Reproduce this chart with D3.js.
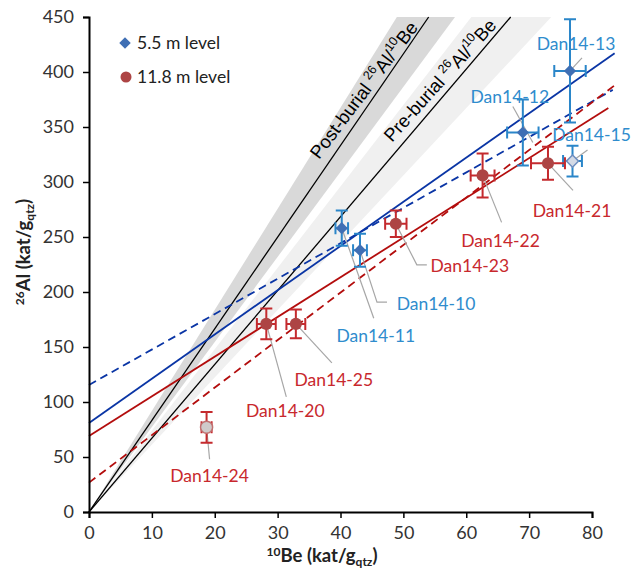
<!DOCTYPE html>
<html>
<head>
<meta charset="utf-8">
<script src="https://cdn.jsdelivr.net/npm/d3@7"></script>
<style>
  body { margin: 0; background: #fff; }
  svg { display: block; }
  text { font-family: Lato, "Open Sans", sans-serif; }
</style>
</head>
<body>
<div id="chart"></div>
<script>
// data ----------------------------------------------------------------------------------------
// 5.5 m level
const names55 = ['Dan14-10', 'Dan14-11', 'Dan14-12', 'Dan14-13', 'Dan14-15'];
const be55 = [43.1, 40.2, 69.0, 76.5, 76.9];
const be55Err = [1.1, 1.0, 2.5, 2.5, 1.5];
const al55 = [238, 258, 345, 401, 319];
const al55Err = [15, 16, 30, 47, 14];
// 11.8 m level
const names118 = ['Dan14-20', 'Dan14-21', 'Dan14-22', 'Dan14-23', 'Dan14-24', 'Dan14-25'];
const be118 = [28.2, 73.0, 62.6, 48.8, 18.7, 32.9];
const be118Err = [1.5, 2.7, 1.9, 1.7, 0.8, 1.5];
const al118 = [171, 317, 306, 262, 77, 171];
const al118Err = [14, 15, 20, 12, 14, 13];
// open markers
const openSamples = ['Dan14-15', 'Dan14-24'];
// regression lines (5.5 solid, 5.5 dashed, 11.8 solid, 11.8 dashed)
const fitIntercept = [81, 115.5, 69, 26.7];
const fitSlope = [4.02, 3.22, 3.61, 4.32];
const fitEnd = [83.6, 83.3, 82.6, 84.1];
// 26Al/10Be ratio lines and their bands (post-burial, pre-burial)
const ratioLabel = ['Post-burial', 'Pre-burial'];
const ratioSlope = [8.33, 6.71];
const ratioLow = [7.73, 6.12];
const ratioHigh = [9.19, 7.4];
const xTicks = [0, 10, 20, 30, 40, 50, 60, 70, 80];
const yTicks = [0, 50, 100, 150, 200, 250, 300, 350, 400, 450];

// label placement (pixel offsets from the point) -----------------------------------------------
const labelOffset = {
  'Dan14-10': {lx: 76, ly: 53, lead: [[0, 0], [17, 52], [27, 52]]},
  'Dan14-11': {lx: 34, ly: 107, lead: [[0, 0], [32, 90]]},
  'Dan14-12': {lx: -13, ly: -36, lead: [[-10, -26], [10, 10]]},
  'Dan14-13': {lx: 6, ly: -27, lead: [[0, 0], [12, -13]]},
  'Dan14-15': {lx: 19, ly: -26, lead: [[0, 0], [15, -11]]},
  'Dan14-20': {lx: 19, ly: 87, lead: [[0, 0], [20, 73]]},
  'Dan14-21': {lx: 24, ly: 47, lead: [[0, 0], [25, 27]]},
  'Dan14-22': {lx: 18, ly: 65, lead: [[0, 0], [19, 47]]},
  'Dan14-23': {lx: 74, ly: 42, lead: [[0, 0], [21, 41], [31, 41]]},
  'Dan14-24': {lx: 3, ly: 48, lead: [[0, 0], [3, 32]]},
  'Dan14-25': {lx: 38, ly: 56, lead: [[0, 0], [36, 39]]}
};

// SVG -----------------------------------------------------------------------------------------
const width = 642;
const height = 576;
const margin = {left: 89, top: 17, right: 50, bottom: 64};
const svg = d3.select('#chart').append('svg')
  .attr('width', width)
  .attr('height', height);

const x = d3.scaleLinear().domain([0, 80]).range([margin.left, 592]);
const y = d3.scaleLinear().domain([0, 450]).range([512, margin.top]);

const blueMarker = '#3f6fb4';
const blueBar = '#2a86c9';
const blueLabel = '#2f8ccd';
const redMarker = '#ad4444';
const redBar = '#c42a2e';
const redLabel = '#c8282d';
const blueLine = '#0a35a5';
const redLine = '#b30d0d';

// ratio bands ---------------------------------------------------------------------------------
const bandFill = ['#d9d9d9', '#f0f0f0'];
ratioSlope.forEach((s, i) => {
  svg.append('path')
    .attr('d', d3.line()([
      [x(0), y(0)],
      [x(450 / ratioHigh[i]), y(450)],
      [x(450 / ratioLow[i]), y(450)]
    ]) + 'Z')
    .attr('fill', bandFill[i]);
});
ratioSlope.forEach(s => {
  svg.append('line')
    .attr('x1', x(0)).attr('y1', y(0))
    .attr('x2', x(450 / s)).attr('y2', y(450))
    .attr('stroke', '#000')
    .attr('stroke-width', 1.3);
});
// ratio labels
const ratioLabelPos = [[36.6, 320], [48.2, 335.5]];
const ratioAngle = [-53, -48];
ratioLabel.forEach((lab, i) => {
  const t = svg.append('text')
    .attr('transform', `translate(${x(ratioLabelPos[i][0])},${y(ratioLabelPos[i][1])}) rotate(${ratioAngle[i]})`)
    .style('font-family', '"Liberation Sans", Arial, sans-serif')
    .attr('font-size', 18.5)
    .attr('fill', '#000');
  t.append('tspan').text(lab + ' ');
  t.append('tspan').attr('font-size', 12.5).attr('dy', -8).text('26');
  t.append('tspan').attr('dy', 8).text('Al/');
  t.append('tspan').attr('font-size', 12.5).attr('dy', -8).text('10');
  t.append('tspan').attr('dy', 8).text('Be');
});

// regression lines --------------------------------------------------------------------------
const fitColor = [blueLine, blueLine, redLine, redLine];
const fitDash = [null, '8,5', null, '8,5'];
fitIntercept.forEach((b, i) => {
  svg.append('line')
    .attr('x1', x(0)).attr('y1', y(b))
    .attr('x2', x(fitEnd[i])).attr('y2', y(b + fitSlope[i] * fitEnd[i]))
    .attr('stroke', fitColor[i])
    .attr('stroke-width', 1.8)
    .attr('stroke-dasharray', fitDash[i]);
});

// axes ----------------------------------------------------------------------------------------
const xAxis = svg.append('g')
  .attr('transform', `translate(0,${y(0)})`)
  .call(d3.axisBottom(x).tickValues(xTicks).tickSize(6).tickPadding(8));
const yAxis = svg.append('g')
  .attr('transform', `translate(${x(0)},0)`)
  .call(d3.axisLeft(y).tickValues(yTicks).tickSize(6).tickPadding(9));
[xAxis, yAxis].forEach(a => {
  a.select('.domain').attr('stroke', '#000').attr('stroke-width', 2);
  a.selectAll('.tick line').attr('stroke', '#000').attr('stroke-width', 1.5);
  a.selectAll('.tick text')
    .attr('font-size', 18)
    .attr('fill', '#333')
    .style('font-family', 'Lato, sans-serif');
});
// axis titles
const xTitle = svg.append('text')
  .attr('x', 322).attr('y', 562)
  .attr('text-anchor', 'middle')
  .attr('font-size', 18.5)
  .attr('font-weight', 'bold')
  .attr('fill', '#222');
xTitle.append('tspan').attr('font-size', 12).attr('dy', -6).text('10');
xTitle.append('tspan').attr('dy', 6).text('Be (kat/g');
xTitle.append('tspan').attr('font-size', 12).attr('dy', 4).text('qtz');
xTitle.append('tspan').attr('dy', -4).text(')');

const yTitle = svg.append('text')
  .attr('transform', 'translate(30,252) rotate(-90)')
  .attr('text-anchor', 'middle')
  .attr('font-size', 18.5)
  .attr('font-weight', 'bold')
  .attr('fill', '#222');
yTitle.append('tspan').attr('font-size', 12).attr('dy', -6).text('26');
yTitle.append('tspan').attr('dy', 6).text('Al (kat/g');
yTitle.append('tspan').attr('font-size', 12).attr('dy', 4).text('qtz');
yTitle.append('tspan').attr('dy', -4).text(')');

// points --------------------------------------------------------------------------------------
const pts = [];
names55.forEach((n, i) => pts.push({name: n, be: be55[i], beErr: be55Err[i], al: al55[i], alErr: al55Err[i], grp: 55}));
names118.forEach((n, i) => pts.push({name: n, be: be118[i], beErr: be118Err[i], al: al118[i], alErr: al118Err[i], grp: 118}));

// leader lines
svg.append('g')
  .selectAll('path')
  .data(pts)
  .enter()
  .append('path')
  .attr('d', d => {
    const px = x(d.be), py = y(d.al);
    return d3.line()(labelOffset[d.name].lead.map(p => [px + p[0], py + p[1]]));
  })
  .attr('fill', 'none')
  .attr('stroke', '#a6a6a6')
  .attr('stroke-width', 1.2);

// error bars
const bars = svg.append('g')
  .selectAll('g')
  .data(pts)
  .enter()
  .append('g')
  .attr('stroke', d => d.grp === 55 ? blueBar : redBar)
  .attr('stroke-width', 2)
  .attr('fill', 'none');
const cap = 6;
bars.append('path')
  .attr('d', d => {
    const px = x(d.be), y1 = y(d.al + d.alErr), y2 = y(d.al - d.alErr);
    return `M${px},${y1}V${y2}M${px - cap},${y1}H${px + cap}M${px - cap},${y2}H${px + cap}`;
  });
bars.append('path')
  .attr('d', d => {
    const py = y(d.al), x1 = x(d.be - d.beErr), x2 = x(d.be + d.beErr);
    return `M${x1},${py}H${x2}M${x1},${py - cap}V${py + cap}M${x2},${py - cap}V${py + cap}`;
  });

// markers
svg.append('g')
  .selectAll('path')
  .data(pts)
  .enter()
  .append('path')
  .attr('transform', d => `translate(${x(d.be)},${y(d.al)})`)
  .attr('d', d => d.grp === 55
    ? d3.symbol().type(d3.symbolDiamond2).size(95)()
    : d3.symbol().type(d3.symbolCircle).size(115)())
  .attr('fill', d => {
    if (openSamples.includes(d.name)) return d.grp === 55 ? '#d3dae6' : '#cfcaca';
    return d.grp === 55 ? blueMarker : redMarker;
  })
  .attr('stroke', d => openSamples.includes(d.name) ? (d.grp === 55 ? '#6e8fc0' : '#c07070') : 'none')
  .attr('stroke-width', 1.5);

// data labels
svg.append('g')
  .selectAll('text')
  .data(pts)
  .enter()
  .append('text')
  .attr('x', d => x(d.be) + labelOffset[d.name].lx)
  .attr('y', d => y(d.al) + labelOffset[d.name].ly)
  .attr('dy', '0.36em')
  .attr('text-anchor', 'middle')
  .attr('font-size', 17.5)
  .attr('fill', d => d.grp === 55 ? blueLabel : redLabel)
  .text(d => d.name);

// legend --------------------------------------------------------------------------------------
const legend = svg.append('g');
legend.append('path')
  .attr('transform', 'translate(125,43)')
  .attr('d', d3.symbol().type(d3.symbolDiamond2).size(85)())
  .attr('fill', blueMarker);
legend.append('path')
  .attr('transform', 'translate(126,77)')
  .attr('d', d3.symbol().type(d3.symbolCircle).size(95)())
  .attr('fill', redMarker);
legend.append('text')
  .attr('x', 137).attr('y', 43).attr('dy', '0.36em')
  .attr('font-size', 17.5).attr('fill', '#222')
  .text('5.5 m level');
legend.append('text')
  .attr('x', 137).attr('y', 77).attr('dy', '0.36em')
  .attr('font-size', 17.5).attr('fill', '#222')
  .text('11.8 m level');
</script>
</body>
</html>
